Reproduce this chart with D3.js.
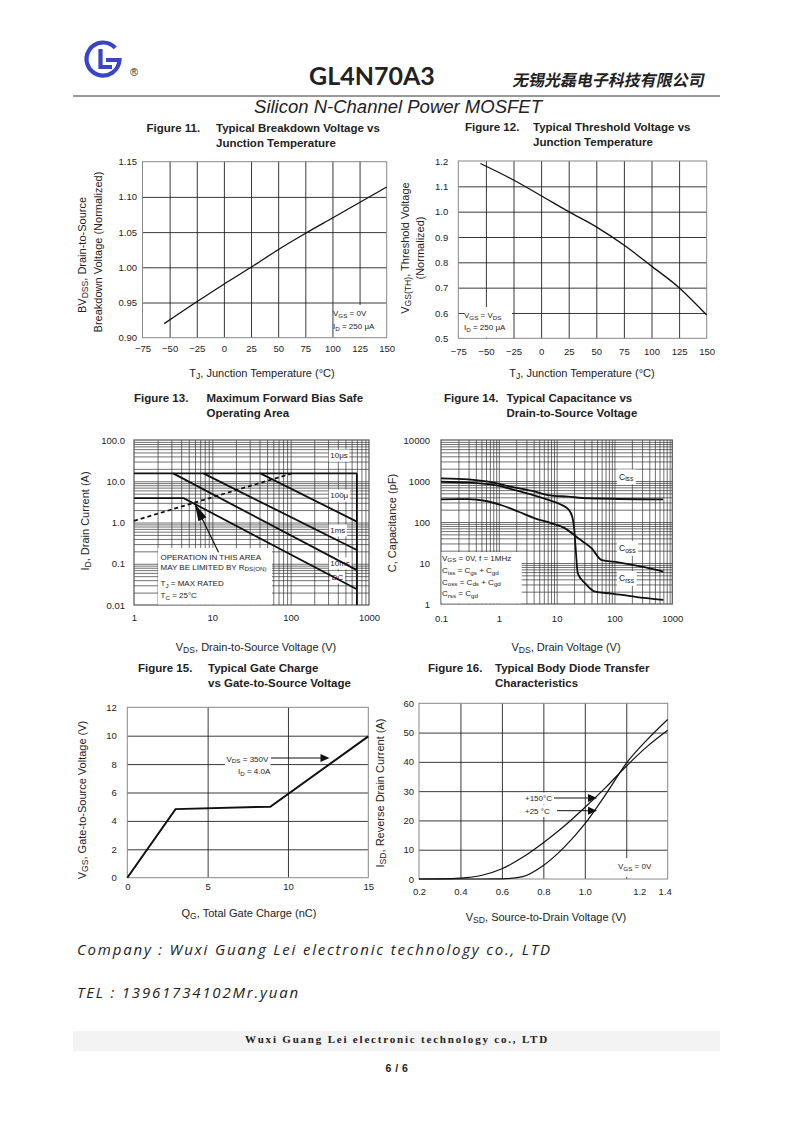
<!DOCTYPE html>
<html>
<head>
<meta charset="utf-8">
<script src="https://cdn.jsdelivr.net/npm/d3@7"></script>
<style>
body { margin: 0; background: #fff; }
svg { display: block; }
text { font-family: "Liberation Sans", Arial, sans-serif; fill: #222; }
</style>
</head>
<body>
<div id="page"></div>
<script>
// Figure 11 - breakdown voltage vs junction temperature
const tempTicks = [-75, -50, -25, 0, 25, 50, 75, 100, 125, 150];
const bvTicks = [0.90, 0.95, 1.00, 1.05, 1.10, 1.15];
const bvTemp = [-55, -25, 0, 25, 50, 75, 100, 125, 150];
const bvNorm = [0.920, 0.951, 0.976, 1.000, 1.025, 1.048, 1.070, 1.092, 1.114];

// Figure 12 - threshold voltage vs junction temperature
const vthTicks = [0.5, 0.6, 0.7, 0.8, 0.9, 1.0, 1.1, 1.2];
const vthTemp = [-55, -25, 0, 25, 50, 75, 100, 125, 150];
const vthNorm = [1.19, 1.125, 1.063, 1.000, 0.940, 0.868, 0.785, 0.700, 0.592];

// Figure 13 - safe operating area
const soaVTicks = [1, 10, 100, 1000];
const soaITicks = [0.01, 0.1, 1, 10, 100];
const soaITickLabels = ['0.01', '0.1', '1.0', '10.0', '100.0'];
const soa10us = [[1, 15.5], [700, 15.5]];
const soa100us = [[41, 15.5], [700, 1.05]];
const soa1ms = [[7.7, 15.5], [700, 0.215]];
const soa10ms = [[3.16, 15.5], [700, 0.07]];
const soaDC = [[1, 3.9], [4.3, 3.9], [700, 0.024]];
const soaVmax = [[700, 15.5], [700, 0.01]];
const rdsOnLimit = [[1, 1.1], [104, 15.5]];
const soaLabels = ['10μs', '100μ', '1ms', '10ms', 'DC'];

// Figure 14 - capacitance vs drain voltage
const capVTicks = [0.1, 1, 10, 100, 1000];
const capCTicks = [1, 10, 100, 1000, 10000];
const cissV = [0.1, 0.3, 0.66, 1.66, 4.2, 7.1, 15.8, 35, 690];
const cissC = [1160, 1100, 960, 720, 550, 455, 415, 380, 357];
const crssV = [0.1, 0.3, 0.86, 1.9, 4.2, 7.2, 12.3, 15.9, 18.6, 20.2, 21.4, 23.2, 31, 46, 89, 230, 700];
const crssC = [960, 910, 790, 600, 440, 345, 260, 205, 135, 64, 21, 5.6, 3.2, 2.0, 1.8, 1.5, 1.26];
const cossV = [0.1, 0.3, 0.57, 1.12, 2.2, 4.2, 8.2, 14, 23.7, 40, 60, 117, 295, 700];
const cossC = [357, 360, 330, 256, 178, 123, 93, 70, 40, 23, 11.8, 10.4, 8.2, 6.2];

// Figure 15 - gate charge
const qgTicks = [0, 5, 10, 15];
const vgsTicks = [0, 2, 4, 6, 8, 10, 12];
const qgCharge = [0, 3.0, 8.9, 15];
const qgVgs = [0, 4.83, 5.0, 9.95];

// Figure 16 - body diode transfer
const vsdTicks = [0.2, 0.4, 0.6, 0.8, 1.0, 1.2, 1.4];
const isdTicks = [0, 10, 20, 30, 40, 50, 60];
const vsdVolt = [0.2, 0.3, 0.4, 0.5, 0.6, 0.7, 0.8, 0.9, 1.0, 1.1, 1.2, 1.3, 1.4];
const isd150 = [0, 0.05, 0.3, 1.2, 3.5, 7.4, 12.4, 18.0, 24.4, 31.2, 38.5, 45.2, 50.8];
const isd25 = [0, 0, 0, 0, 0.05, 0.8, 4.6, 10.8, 18.8, 28.8, 39.5, 47.5, 54.5];

const svg = d3.select('#page').append('svg')
    .attr('width', 793)
    .attr('height', 1122)
    .attr('viewBox', '0 0 793 1122');

const AXIS_FS = 11;

// "_{...}" marks a subscript
function rich(t, str, size) {
    const drop = size * 0.22;
    let low = false;
    str.split(/(_\{[^}]*\})/).forEach(p => {
        if (!p) return;
        if (p.startsWith('_{')) {
            t.append('tspan').attr('dy', low ? 0 : drop).attr('font-size', size * 0.78).text(p.slice(2, -1));
            low = true;
        } else {
            t.append('tspan').attr('dy', low ? -drop : 0).text(p);
            low = false;
        }
    });
    return t;
}

function addText(g, x, y, str, o = {}) {
    const size = o.size || 10;
    const t = g.append('text')
        .attr('x', x).attr('y', o.rotate ? y + 0.35 * size : y)
        .attr('font-size', size)
        .attr('font-weight', o.weight || null)
        .attr('text-anchor', o.anchor || 'start');
    if (o.rotate) t.attr('transform', `rotate(-90,${x},${y})`);
    rich(t, str, size);
    if (o.bg) {
        const b = t.node().getBBox();
        const p = o.pad === undefined ? 1 : o.pad;
        g.insert('rect', () => t.node())
            .attr('x', b.x - p).attr('y', b.y - p)
            .attr('width', b.width + 2 * p).attr('height', b.height + 2 * p)
            .attr('fill', '#fff');
    }
    return t;
}

function axes(g, x, y, o) {
    const [x0, x1] = x.range();
    const [y0, y1] = y.range();
    const gx = g.append('g').attr('transform', `translate(0,${y0})`)
        .call(d3.axisBottom(x).tickValues(o.xGrid).tickSize(-(y0 - y1)).tickFormat(''));
    gx.select('.domain').remove();
    gx.selectAll('line').attr('stroke', o.gridColor || '#222').attr('stroke-width', o.gridWidth || 0.9);
    const gy = g.append('g').attr('transform', `translate(${x0},0)`)
        .call(d3.axisLeft(y).tickValues(o.yGrid).tickSize(-(x1 - x0)).tickFormat(''));
    gy.select('.domain').remove();
    gy.selectAll('line').attr('stroke', o.gridColor || '#222').attr('stroke-width', o.gridWidth || 0.9);

    g.append('rect')
        .attr('x', x0).attr('y', y1)
        .attr('width', x1 - x0).attr('height', y0 - y1)
        .attr('fill', 'none')
        .attr('stroke', o.frameColor || '#888')
        .attr('stroke-width', o.frameWidth || 1);

    const xa = g.append('g').attr('transform', `translate(0,${y0})`)
        .call(d3.axisBottom(x).tickValues(o.xTicks).tickSize(0).tickPadding(o.xPad).tickFormat(o.xFmt));
    xa.select('.domain').remove();
    xa.attr('font-family', null).attr('font-size', o.fs || 9.5);
    const ya = g.append('g').attr('transform', `translate(${x0},0)`)
        .call(d3.axisLeft(y).tickValues(o.yTicks).tickSize(0).tickPadding(o.yPad).tickFormat(o.yFmt));
    ya.select('.domain').remove();
    ya.attr('font-family', null).attr('font-size', o.fs || 9.5);
    return { xa, ya };
}

function title(g, x1, x2, y, lines) {
    addText(g, x1, y, lines[0], { size: 11.5, weight: 'bold' });
    addText(g, x2, y, lines[1], { size: 11.5, weight: 'bold' });
    addText(g, x2, y + 15, lines[2], { size: 11.5, weight: 'bold' });
}

function arrowHead(g, x1, y1, x2, y2, len, w) {
    const a = Math.atan2(y2 - y1, x2 - x1);
    const bx = x2 - len * Math.cos(a), by = y2 - len * Math.sin(a);
    const px = -Math.sin(a) * w / 2, py = Math.cos(a) * w / 2;
    g.append('path')
        .attr('d', `M${x2},${y2}L${bx + px},${by + py}L${bx - px},${by - py}Z`)
        .attr('fill', '#111');
}

function curve(g, pts, x, y, w, c) {
    return g.append('path')
        .datum(pts)
        .attr('d', d3.line().x(d => x(d[0])).y(d => y(d[1])).curve(c || d3.curveLinear))
        .attr('fill', 'none')
        .attr('stroke', '#111')
        .attr('stroke-width', w);
}

// ---------- header ----------
const head = svg.append('g');
const logo = head.append('g').attr('fill', 'none').attr('stroke', '#3a44c8').attr('stroke-width', 4.2);
const lc = { x: 103, y: 59, r: 16.5 };
const a0 = -42 * Math.PI / 180;
logo.append('path')
    .attr('d', `M${lc.x + lc.r * Math.cos(a0)},${lc.y + lc.r * Math.sin(a0)} A${lc.r},${lc.r} 0 1 0 ${lc.x + lc.r},${lc.y + 1} L${lc.x + 3},${lc.y + 1}`);
logo.append('path').attr('d', `M${lc.x - 2.5},${lc.y - 10} L${lc.x - 2.5},${lc.y + 8} L${lc.x + 9},${lc.y + 8}`);
addText(head, 134, 76, '®', { size: 11, anchor: 'middle' });
head.append('text').attr('x', 372).attr('y', 85)
    .attr('text-anchor', 'middle')
    .style('font-family', 'Lato, "Open Sans", sans-serif')
    .attr('font-weight', 'bold').attr('font-size', 25).attr('fill', '#111')
    .text('GL4N70A3');
head.append('text').attr('x', 0).attr('y', 0)
    .attr('transform', 'translate(512,86) skewX(-12)')
    .style('font-family', '"Noto Sans CJK SC", sans-serif')
    .attr('font-weight', 'bold').attr('font-size', 16).attr('fill', '#111')
    .text('无锡光磊电子科技有限公司');
head.append('line').attr('x1', 73).attr('x2', 720).attr('y1', 96).attr('y2', 96)
    .attr('stroke', '#333').attr('stroke-width', 1);
head.append('text').attr('x', 398).attr('y', 112.5)
    .attr('text-anchor', 'middle').attr('font-style', 'italic').attr('font-size', 18.5).attr('fill', '#111')
    .text('Silicon N-Channel Power MOSFET');

// ---------- Figure 11 ----------
const g11 = svg.append('g');
title(g11, 146.5, 216, 132, ['Figure 11.', 'Typical Breakdown Voltage vs', 'Junction Temperature']);
const x11 = d3.scaleLinear().domain([-75, 150]).range([142.5, 386.7]);
const y11 = d3.scaleLinear().domain([0.90, 1.15]).range([337.7, 161.7]);
axes(g11, x11, y11, {
    xGrid: tempTicks.slice(1, -1), yGrid: bvTicks.slice(1, -1),
    xTicks: tempTicks, yTicks: bvTicks,
    xFmt: d3.format('d'), yFmt: d3.format('.2f'), xPad: 8, yPad: 5.5
});
g11.append('rect').attr('x', 334).attr('y', 305).attr('width', 50).attr('height', 32).attr('fill', '#fff');
addText(g11, 333, 316, 'V_{GS} = 0V', { size: 8 });
addText(g11, 333, 329, 'I_{D} = 250 μA', { size: 8 });
curve(g11, d3.zip(bvTemp, bvNorm), x11, y11, 1.3, d3.curveMonotoneX);
addText(g11, 82, 255, 'BV_{DSS}, Drain-to-Source', { size: AXIS_FS, anchor: 'middle', rotate: true });
addText(g11, 98, 252, 'Breakdown Voltage (Normalized)', { size: AXIS_FS, anchor: 'middle', rotate: true });
addText(g11, 262, 377, 'T_{J}, Junction Temperature (°C)', { size: AXIS_FS, anchor: 'middle' });

// ---------- Figure 12 ----------
const g12 = svg.append('g');
title(g12, 465, 533, 131, ['Figure 12.', 'Typical Threshold Voltage vs', 'Junction Temperature']);
const x12 = d3.scaleLinear().domain([-75, 150]).range([458.3, 706.7]);
const y12 = d3.scaleLinear().domain([0.5, 1.2]).range([338.3, 161]);
axes(g12, x12, y12, {
    xGrid: tempTicks.slice(1, -1), yGrid: vthTicks.slice(1, -1),
    xTicks: tempTicks, yTicks: vthTicks,
    xFmt: d3.format('d'), yFmt: d3.format('.1f'), xPad: 10, yPad: 10
});
g12.append('rect').attr('x', 464).attr('y', 307).attr('width', 48).attr('height', 30.5).attr('fill', '#fff');
addText(g12, 464, 318, 'V_{GS} = V_{DS}', { size: 8 });
addText(g12, 464, 330, 'I_{D} = 250 μA', { size: 8 });
curve(g12, d3.zip(vthTemp, vthNorm), x12, y12, 1.3, d3.curveMonotoneX);
addText(g12, 405, 248, 'V_{GS(TH)}, Threshold Voltage', { size: AXIS_FS, anchor: 'middle', rotate: true });
addText(g12, 420, 248, '(Normalized)', { size: AXIS_FS, anchor: 'middle', rotate: true });
addText(g12, 582, 377, 'T_{J}, Junction Temperature (°C)', { size: AXIS_FS, anchor: 'middle' });

// ---------- Figure 13 ----------
const g13 = svg.append('g');
title(g13, 134, 206.5, 402, ['Figure 13.', 'Maximum Forward Bias Safe', 'Operating Area']);
const x13 = d3.scaleLog().domain([1, 1000]).range([134, 369]);
const y13 = d3.scaleLog().domain([0.01, 100]).range([605, 440]);
axes(g13, x13, y13, {
    xGrid: x13.ticks().slice(1, -1), yGrid: y13.ticks().slice(1, -1),
    xTicks: soaVTicks, yTicks: soaITicks,
    xFmt: d3.format('d'), yFmt: (d, i) => soaITickLabels[i], xPad: 9.5, yPad: 9,
    gridColor: '#333', gridWidth: 0.7, frameColor: '#555', frameWidth: 1.2
});
[[320, 43], [320, 4.6], [320, 0.66], [320, 0.105], [335, 0.048]].forEach((p, i) => {
    addText(g13, x13(p[0]), y13(p[1]) + 3, soaLabels[i], { size: 8, bg: true, pad: 1.5 });
});
[soa10us, soa100us, soa1ms, soa10ms, soaDC, soaVmax].forEach(pts => curve(g13, pts, x13, y13, 1.8));
curve(g13, rdsOnLimit, x13, y13, 1.8).attr('stroke-dasharray', '4,3');
g13.append('rect').attr('x', 158).attr('y', 548).attr('width', 114).attr('height', 56.5).attr('fill', '#fff');
addText(g13, 160.5, 559.5, 'OPERATION IN THIS AREA', { size: 8 });
addText(g13, 160.5, 569.5, 'MAY BE LIMITED BY R_{DS(ON)}', { size: 8 });
addText(g13, 160.5, 586, 'T_{J} = MAX RATED', { size: 8 });
addText(g13, 160.5, 598, 'T_{C} = 25°C', { size: 8 });
const tail13 = [x13(12), y13(0.19)], tip13 = [x13(6), y13(2.8)];
g13.append('line')
    .attr('x1', tail13[0]).attr('y1', tail13[1]).attr('x2', tip13[0]).attr('y2', tip13[1])
    .attr('stroke', '#111').attr('stroke-width', 1.2);
arrowHead(g13, tail13[0], tail13[1], tip13[0], tip13[1], 17, 9);
addText(g13, 85, 521, 'I_{D}, Drain Current (A)', { size: AXIS_FS, anchor: 'middle', rotate: true });
addText(g13, 256, 650.5, 'V_{DS}, Drain-to-Source Voltage (V)', { size: AXIS_FS, anchor: 'middle' });

// ---------- Figure 14 ----------
const g14 = svg.append('g');
title(g14, 444, 506.5, 402, ['Figure 14.', 'Typical Capacitance vs', 'Drain-to-Source Voltage']);
const x14 = d3.scaleLog().domain([0.1, 1000]).range([441, 672.3]);
const y14 = d3.scaleLog().domain([1, 10000]).range([604, 440]);
axes(g14, x14, y14, {
    xGrid: x14.ticks().slice(1, -1), yGrid: y14.ticks().slice(1, -1),
    xTicks: capVTicks, yTicks: capCTicks,
    xFmt: d => String(d), yFmt: d3.format('d'), xPad: 11, yPad: 11,
    gridColor: '#333', gridWidth: 0.7, frameColor: '#555', frameWidth: 1.2
});
g14.append('rect').attr('x', 441.6).attr('y', 552).attr('width', 80).attr('height', 51.4).attr('fill', '#fff');
addText(g14, 442, 560.5, 'V_{GS} = 0V, f = 1MHz', { size: 8 });
addText(g14, 442, 573, 'C_{iss} = C_{gs} + C_{gd}', { size: 8 });
addText(g14, 442, 584.5, 'C_{oss} = C_{ds} + C_{gd}', { size: 8 });
addText(g14, 442, 596, 'C_{rss} = C_{gd}', { size: 8 });
addText(g14, 619, 479.5, 'C_{iss}', { size: 8.5, bg: true, pad: 2 });
addText(g14, 619, 551, 'C_{oss}', { size: 8.5, bg: true, pad: 2 });
addText(g14, 619, 581, 'C_{rss}', { size: 8.5, bg: true, pad: 2 });
curve(g14, d3.zip(cissV, cissC), x14, y14, 1.8, d3.curveMonotoneX);
curve(g14, d3.zip(crssV, crssC), x14, y14, 1.8, d3.curveMonotoneX);
curve(g14, d3.zip(cossV, cossC), x14, y14, 1.8, d3.curveMonotoneX);
addText(g14, 391.7, 523, 'C, Capacitance (pF)', { size: AXIS_FS, anchor: 'middle', rotate: true });
addText(g14, 566, 650.5, 'V_{DS}, Drain Voltage (V)', { size: AXIS_FS, anchor: 'middle' });

// ---------- Figure 15 ----------
const g15 = svg.append('g');
title(g15, 138, 208, 672, ['Figure 15.', 'Typical Gate Charge', 'vs Gate-to-Source Voltage']);
const x15 = d3.scaleLinear().domain([0, 15]).range([127.3, 368.3]);
const y15 = d3.scaleLinear().domain([0, 12]).range([877.7, 707.3]);
axes(g15, x15, y15, {
    xGrid: qgTicks.slice(1, -1), yGrid: vgsTicks.slice(1, -1),
    xTicks: qgTicks, yTicks: vgsTicks,
    xFmt: d3.format('d'), yFmt: d3.format('d'), xPad: 5.7, yPad: 10.6
});
addText(g15, 226.5, 761.5, 'V_{DS} = 350V', { size: 8, bg: true, pad: 1.5 });
addText(g15, 238, 774, 'I_{D} = 4.0A', { size: 8, bg: true, pad: 1.5 });
g15.append('line').attr('x1', 271).attr('x2', 322).attr('y1', 758).attr('y2', 758)
    .attr('stroke', '#111').attr('stroke-width', 1);
arrowHead(g15, 271, 758, 329.5, 758, 9, 8);
curve(g15, d3.zip(qgCharge, qgVgs), x15, y15, 2);
addText(g15, 82, 800, 'V_{GS}, Gate-to-Source Voltage (V)', { size: AXIS_FS, anchor: 'middle', rotate: true });
addText(g15, 249, 917, 'Q_{G}, Total Gate Charge (nC)', { size: AXIS_FS, anchor: 'middle' });

// ---------- Figure 16 ----------
const g16 = svg.append('g');
title(g16, 428, 495, 672, ['Figure 16.', 'Typical Body Diode Transfer', 'Characteristics']);
const x16 = d3.scaleLinear().domain([0.2, 1.4]).range([419, 667.7]);
const y16 = d3.scaleLinear().domain([0, 60]).range([879, 703.3]);
const ax16 = axes(g16, x16, y16, {
    xGrid: vsdTicks.slice(1, -1), yGrid: isdTicks.slice(1, -1),
    xTicks: vsdTicks, yTicks: isdTicks,
    xFmt: d3.format('.1f'), yFmt: d3.format('d'), xPad: 9.4, yPad: 5
});
ax16.xa.selectAll('text').attr('dx', d => d === 1.2 ? 13 : d === 1.4 ? -3 : 0);
g16.append('rect').attr('x', 614).attr('y', 858).attr('width', 49).attr('height', 19).attr('fill', '#fff');
addText(g16, 618, 869, 'V_{GS} = 0V', { size: 8 });
addText(g16, 525, 801, '+150°C', { size: 8, bg: true, pad: 1.5 });
addText(g16, 525, 813.5, '+25 °C', { size: 8, bg: true, pad: 1.5 });
g16.append('line').attr('x1', 554).attr('x2', 589).attr('y1', 798).attr('y2', 798).attr('stroke', '#111');
g16.append('line').attr('x1', 557).attr('x2', 589).attr('y1', 810.7).attr('y2', 810.7).attr('stroke', '#111');
arrowHead(g16, 554, 798, 597, 798, 9, 8);
arrowHead(g16, 557, 810.7, 597, 810.7, 9, 8);
curve(g16, d3.zip(vsdVolt, isd150), x16, y16, 1.2, d3.curveMonotoneX);
curve(g16, d3.zip(vsdVolt, isd25), x16, y16, 1.2, d3.curveMonotoneX);
addText(g16, 380, 793, 'I_{SD}, Reverse Drain Current (A)', { size: AXIS_FS, anchor: 'middle', rotate: true });
addText(g16, 546, 920.5, 'V_{SD}, Source-to-Drain Voltage (V)', { size: AXIS_FS, anchor: 'middle' });

// ---------- footer ----------
const foot = svg.append('g');
foot.append('text').attr('x', 77).attr('y', 955)
    .style('font-family', '"Open Sans", sans-serif').attr('font-style', 'italic')
    .attr('font-size', 15).attr('letter-spacing', 1.8).attr('fill', '#111')
    .text('Company : Wuxi Guang Lei electronic technology co., LTD');
foot.append('text').attr('x', 77).attr('y', 998)
    .style('font-family', '"Open Sans", sans-serif').attr('font-style', 'italic')
    .attr('font-size', 15).attr('letter-spacing', 1.8).attr('fill', '#111')
    .text('TEL : 13961734102Mr.yuan');
foot.append('rect').attr('x', 73).attr('y', 1031).attr('width', 647).attr('height', 20).attr('fill', '#f3f3f3');
foot.append('text').attr('x', 397).attr('y', 1042.5)
    .attr('text-anchor', 'middle')
    .style('font-family', '"Liberation Serif", serif').attr('font-weight', 'bold')
    .attr('font-size', 11).attr('letter-spacing', 1.8).attr('fill', '#111')
    .text('Wuxi Guang Lei electronic technology co., LTD');
foot.append('text').attr('x', 397).attr('y', 1072)
    .attr('text-anchor', 'middle').attr('font-weight', 'bold').attr('font-size', 10.5)
    .attr('letter-spacing', 0.5).attr('fill', '#111')
    .text('6 / 6');
</script>
</body>
</html>
